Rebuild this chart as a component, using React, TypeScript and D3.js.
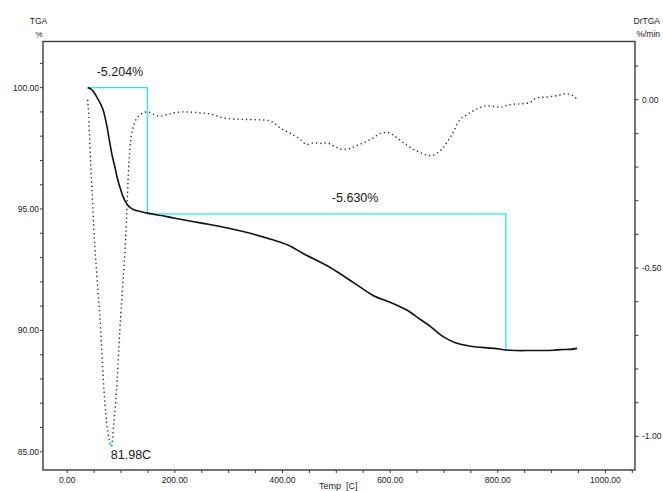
import React from 'react';
import * as d3 from 'd3';

const W = 663;
const H = 491;

// TGA mass curve (temperature in C, mass in %)
const tgaTemp = [38, 45, 50, 55, 62, 67, 73, 79.4, 84, 88.7, 93, 98, 103, 107.3, 112, 116.6, 125, 135.2, 148.8, 175, 200, 250, 300, 340, 380, 410, 440, 488.6, 531.9, 569.1, 600, 630, 656, 674, 690, 705, 720, 749, 792.3, 823.3, 860, 903.9, 916.3, 935, 947.4];
const tgaMass = [100.0, 99.93, 99.8, 99.61, 99.33, 99.06, 98.5, 97.69, 97.15, 96.72, 96.28, 95.89, 95.55, 95.34, 95.18, 95.07, 94.96, 94.9, 94.83, 94.73, 94.62, 94.42, 94.21, 94.0, 93.74, 93.52, 93.15, 92.59, 91.97, 91.43, 91.16, 90.85, 90.45, 90.18, 89.88, 89.66, 89.5, 89.35, 89.26, 89.18, 89.17, 89.18, 89.21, 89.22, 89.26];

// Derivative curve (temperature in C, rate in %/min)
const dtgTemp = [38, 40, 42, 46, 50, 55, 62, 67, 73, 78, 81.98, 86.9, 93, 98, 103.6, 109, 112, 115, 118, 122, 126, 135, 149, 160, 172, 190, 215, 240, 270, 290, 320, 345, 371, 385, 396, 415, 433, 445, 458, 470, 482, 498, 513, 525, 538, 555, 569, 582, 594, 606, 619, 632, 644, 660, 675, 690, 700, 711, 718, 724, 730, 740, 749, 765, 780, 792, 805, 818, 830, 845, 860, 873, 890, 910, 926, 940, 947];
const dtgRate = [0.0, -0.05, -0.13, -0.27, -0.4, -0.52, -0.68, -0.83, -0.955, -1.01, -1.03, -0.956, -0.83, -0.68, -0.54, -0.4, -0.28, -0.18, -0.12, -0.085, -0.065, -0.045, -0.036, -0.043, -0.049, -0.042, -0.036, -0.038, -0.044, -0.054, -0.058, -0.059, -0.061, -0.07, -0.084, -0.1, -0.118, -0.133, -0.128, -0.13, -0.128, -0.14, -0.148, -0.145, -0.136, -0.125, -0.113, -0.1, -0.097, -0.105, -0.121, -0.136, -0.148, -0.16, -0.166, -0.155, -0.14, -0.113, -0.094, -0.074, -0.059, -0.047, -0.038, -0.025, -0.018, -0.02, -0.022, -0.016, -0.013, -0.012, -0.008, 0.006, 0.008, 0.012, 0.018, 0.012, 0.002];

// Mass-loss steps
const stepStart = 38;
const stepEnds = [149, 815];
const stepLosses = [5.204, 5.63];
const stepLabels = ['-5.204%', '-5.630%'];
const stepLabelTemps = [98, 535];

// Derivative peak
const peakTemp = 81.98;
const peakLabel = '81.98C';

// Axis ticks
const tempTicks = [0, 200, 400, 600, 800, 1000];
const tempTickLabels = ['0.00', '200.00', '400.00', '600.00', '800.00', '1000.00'];
const massTicks = [85, 90, 95, 100];
const massTickLabels = ['85.00', '90.00', '95.00', '100.00'];
const rateTicks = [0, -0.5, -1.0];
const rateTickLabels = ['0.00', '-0.50', '-1.00'];

const FONT = '"Liberation Sans", Arial, sans-serif';
const AXIS = '#3a3a3a';
const CYAN = '#19f0f0';
const INK = '#1a1a1a';

export default function App() {
  const left = 43;
  const right = 635;
  const top = 41.5;
  const bottom = 470;

  const x = d3.scaleLinear().domain([-45, 1055]).range([left, right]);
  const yL = d3.scaleLinear().domain([84.25, 101.9]).range([bottom, top]);
  const yR = d3.scaleLinear().domain([-1.1, 0.173]).range([bottom, top]);

  const tgaLine = d3
    .line<number>()
    .x((_, i) => x(tgaTemp[i]))
    .y((d) => yL(d))
    .curve(d3.curveCatmullRom.alpha(0.5));
  const dtgLine = d3
    .line<number>()
    .x((_, i) => x(dtgTemp[i]))
    .y((d) => yR(d))
    .curve(d3.curveMonotoneX);

  // step levels derived from the stated losses
  const levels = [100.0];
  stepLosses.forEach((l) => levels.push(+(levels[levels.length - 1] - l).toFixed(3)));

  const stepPath = d3.path();
  stepPath.moveTo(x(stepStart), yL(levels[0]));
  stepPath.lineTo(x(stepEnds[0]), yL(levels[0]));
  stepPath.lineTo(x(stepEnds[0]), yL(levels[1]));
  stepPath.lineTo(x(stepEnds[1]), yL(levels[1]));
  stepPath.lineTo(x(stepEnds[1]), yL(levels[2]));

  const peakIdx = dtgTemp.indexOf(peakTemp);
  const peakRate = dtgRate[peakIdx];
  const rateAt = d3.scaleLinear().domain(dtgTemp).range(dtgRate);

  const minorTemp = d3.range(0, 1051, 50);
  const minorMass = d3.range(85, 102, 1);
  const minorRate = d3.range(-10, 2, 1).map((v) => v / 10);

  return (
    <svg
      width={W}
      height={H}
      style={{ position: 'absolute', left: 0, top: 0, background: '#fff' }}
      fontFamily={FONT}
    >
      <rect x={0} y={0} width={W} height={H} fill="#fff" />

      {/* frame */}
      <rect x={left} y={top} width={right - left} height={bottom - top} fill="none" stroke={AXIS} strokeWidth={1.4} />

      {/* bottom axis */}
      {minorTemp.map((t) => (
        <line key={'tx' + t} x1={x(t)} x2={x(t)} y1={bottom} y2={bottom + 3} stroke={AXIS} strokeWidth={1} />
      ))}
      {tempTicks.map((t, i) => (
        <text key={'tl' + t} x={x(t)} y={483} fontSize={8.5} textAnchor="middle" fill={INK}>
          {tempTickLabels[i]}
        </text>
      ))}
      <text x={319} y={489} fontSize={9} fill={INK} xmlSpace="preserve">
        {'Temp  [C]'}
      </text>

      {/* left axis */}
      {minorMass.map((m) => (
        <line key={'mx' + m} x1={left - 3} x2={left} y1={yL(m)} y2={yL(m)} stroke={AXIS} strokeWidth={1} />
      ))}
      {massTicks.map((m, i) => (
        <text key={'ml' + m} x={39} y={yL(m) + 3} fontSize={8.5} textAnchor="end" fill={INK}>
          {massTickLabels[i]}
        </text>
      ))}
      <text x={38.5} y={24.3} fontSize={8.5} textAnchor="middle" fill={INK}>TGA</text>
      <text x={39} y={36.5} fontSize={8} textAnchor="middle" fill={INK}>%</text>

      {/* right axis */}
      {minorRate.map((r) => (
        <line key={'rx' + r} x1={right} x2={right + 3.5} y1={yR(r)} y2={yR(r)} stroke={AXIS} strokeWidth={1} />
      ))}
      {rateTicks.map((r, i) => (
        <text key={'rl' + r} x={642} y={yR(r) + 3} fontSize={8.5} textAnchor="start" fill={INK}>
          {rateTickLabels[i]}
        </text>
      ))}
      <text x={660} y={24.3} fontSize={8.5} textAnchor="end" fill={INK}>DrTGA</text>
      <text x={660} y={36.5} fontSize={8.5} textAnchor="end" fill={INK}>%/min</text>

      {/* curves */}
      <path d={dtgLine(dtgRate) || ''} fill="none" stroke="#2a2a2a" strokeWidth={1.4} strokeDasharray="1.3 3" />
      <path d={stepPath.toString()} fill="none" stroke={CYAN} strokeWidth={1.3} />
      <path d={tgaLine(tgaMass) || ''} fill="none" stroke="#111" strokeWidth={1.6} />

      {/* peak marker */}
      <line
        x1={x(peakTemp - 2.5)}
        y1={yR(rateAt(peakTemp - 2.5))}
        x2={x(peakTemp)}
        y2={yR(peakRate)}
        stroke={CYAN}
        strokeWidth={1.5}
      />
      <text x={x(peakTemp) - 0.5} y={yR(peakRate) + 12.5} fontSize={12.5} fill={INK}>
        {peakLabel}
      </text>

      {/* step labels */}
      {stepLabels.map((s, i) => (
        <text key={s} x={x(stepLabelTemps[i])} y={yL(levels[i]) - 12} fontSize={12.5} textAnchor="middle" fill={INK}>
          {s}
        </text>
      ))}
    </svg>
  );
}
